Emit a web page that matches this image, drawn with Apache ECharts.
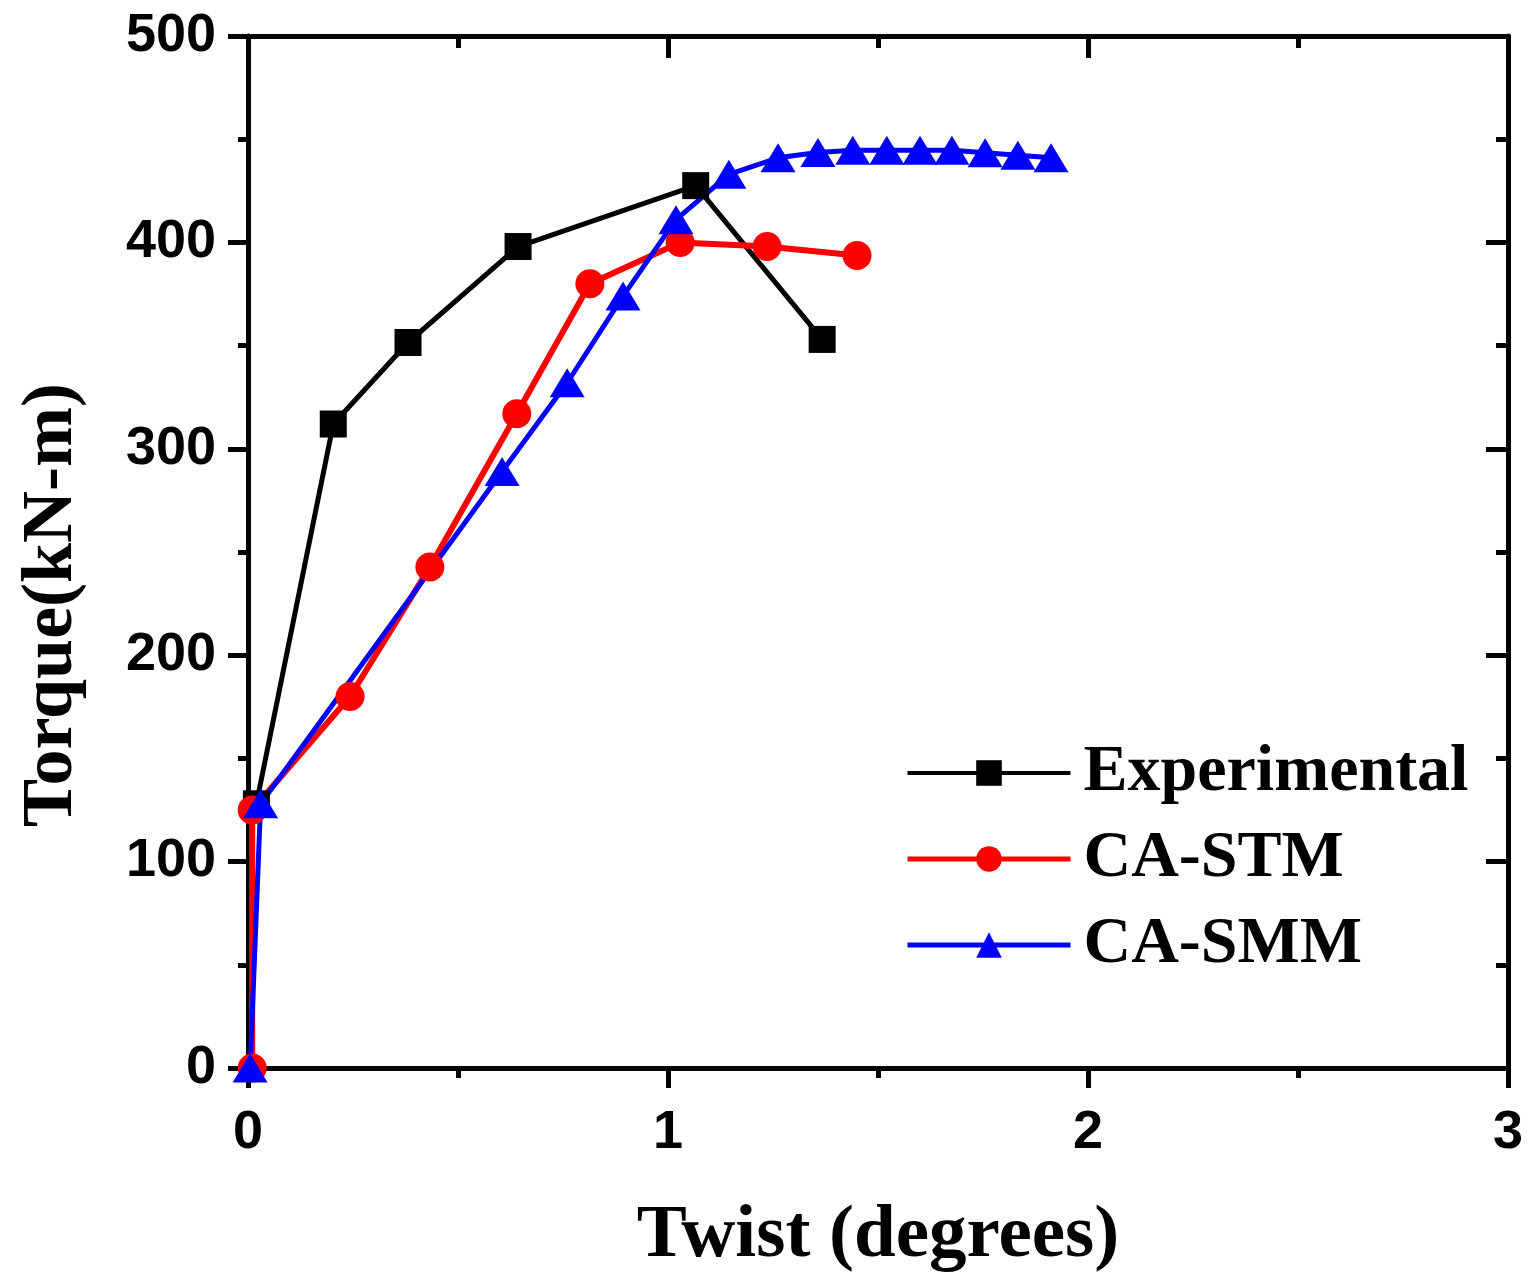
<!DOCTYPE html>
<html>
<head>
<meta charset="utf-8">
<script src="https://cdn.jsdelivr.net/npm/echarts@6/dist/echarts.min.js"></script>
<style>
  html, body { margin: 0; padding: 0; background: #fff; }
  #chart { width: 1529px; height: 1279px; }
</style>
</head>
<body>
<div id="chart"></div>
<script>
// Torque–twist response: test results against two CA models
const seriesNames = ['Experimental', 'CA-STM', 'CA-SMM'];

const expTwist  = [0.02, 0.203, 0.381, 0.643, 1.066, 1.367];
const expTorque = [128, 312, 351.5, 398, 427.5, 353];

const stmTwist  = [0.01, 0.01, 0.243, 0.433, 0.64, 0.814, 1.029, 1.236, 1.45];
const stmTorque = [0, 125, 180, 242.7, 317, 380, 400, 398, 393.6];

const smmTwist  = [0.005, 0.03, 0.605, 0.76, 0.893, 1.019, 1.145, 1.262, 1.357, 1.44, 1.521, 1.6, 1.676, 1.755, 1.833, 1.912];
const smmTorque = [0, 128, 289, 332, 374, 411, 433, 441, 443.6, 444.6, 444.6, 444.6, 444.6, 443.4, 442.2, 441];

const xTicks = [0, 1, 2, 3];
const yTicks = [0, 100, 200, 300, 400, 500];

const colors = ['#000000', '#ff0000', '#0000ff'];
const lineWidths = [5, 6, 5];

const pairs = (xs, ys) => xs.map((x, i) => [x, ys[i]]);

const chart = echarts.init(document.getElementById('chart'), null, { renderer: 'canvas' });

const sansBold = { fontFamily: 'Liberation Sans', fontWeight: 'bold', fontSize: 54, color: '#000' };
const serifBold = { fontFamily: 'Liberation Serif', fontWeight: 'bold', color: '#000' };
const spine = { show: true, onZero: false, lineStyle: { color: '#000', width: 5 } };
const tickLine = { color: '#000', width: 5 };

// mirrored frame axes (top / right) carry inward ticks only
function frameAxis(extra) {
  return Object.assign({
    type: 'value',
    axisLine: spine,
    splitLine: { show: false },
    axisLabel: { show: false },
    axisTick: { show: true, inside: true, length: 22, lineStyle: tickLine },
    minorTick: { show: true, splitNumber: 2, length: 12, lineStyle: tickLine }
  }, extra);
}

chart.setOption({
  backgroundColor: '#fff',
  animation: false,
  grid: { left: 248, right: 21, top: 36, bottom: 210, containLabel: false },
  legend: {
    orient: 'vertical',
    left: 905,
    top: 740,
    padding: 0,
    itemWidth: 163,
    itemHeight: 32,
    itemGap: 20,
    data: seriesNames.map((n, i) => ({
      name: n,
      lineStyle: { color: colors[i], width: i === 0 ? 4 : 5 }
    })),
    textStyle: Object.assign({}, serifBold, { fontSize: 66, lineHeight: 66, padding: [0, 0, 0, 8] })
  },
  xAxis: [
    {
      type: 'value',
      min: xTicks[0],
      max: xTicks[xTicks.length - 1],
      interval: 1,
      name: 'Twist (degrees)',
      nameLocation: 'middle',
      nameGap: 131,
      nameTextStyle: Object.assign({}, serifBold, { fontSize: 75 }),
      axisLine: spine,
      splitLine: { show: false },
      axisTick: { show: true, inside: false, length: 20, lineStyle: tickLine },
      minorTick: { show: true, splitNumber: 2, length: 10, lineStyle: tickLine },
      axisLabel: Object.assign({ margin: 38 }, sansBold)
    },
    frameAxis({ position: 'top', min: xTicks[0], max: xTicks[xTicks.length - 1], interval: 1 })
  ],
  yAxis: [
    {
      type: 'value',
      min: yTicks[0],
      max: yTicks[yTicks.length - 1],
      interval: 100,
      name: 'Torque(kN-m)',
      nameLocation: 'middle',
      nameGap: 160,
      nameTextStyle: Object.assign({}, serifBold, { fontSize: 72, padding: [0, 106, 0, 0] }),
      axisLine: spine,
      splitLine: { show: false },
      axisTick: { show: true, inside: false, length: 20, lineStyle: tickLine },
      minorTick: { show: true, splitNumber: 2, length: 10, lineStyle: tickLine },
      axisLabel: Object.assign({ margin: 32 }, sansBold)
    },
    frameAxis({ position: 'right', min: yTicks[0], max: yTicks[yTicks.length - 1], interval: 100 })
  ],
  series: [
    {
      name: seriesNames[0],
      type: 'line',
      data: pairs(expTwist, expTorque),
      symbol: 'rect',
      symbolSize: 27,
      itemStyle: { color: colors[0] },
      lineStyle: { color: colors[0], width: lineWidths[0] },
      clip: false
    },
    {
      name: seriesNames[1],
      type: 'line',
      data: pairs(stmTwist, stmTorque),
      symbol: 'circle',
      symbolSize: 29,
      itemStyle: { color: colors[1] },
      lineStyle: { color: colors[1], width: lineWidths[1] },
      clip: false
    },
    {
      name: seriesNames[2],
      type: 'line',
      data: pairs(smmTwist, smmTorque),
      symbol: 'triangle',
      symbolSize: [35, 29],
      itemStyle: { color: colors[2] },
      lineStyle: { color: colors[2], width: lineWidths[2] },
      clip: false
    }
  ]
});
</script>
</body>
</html>
